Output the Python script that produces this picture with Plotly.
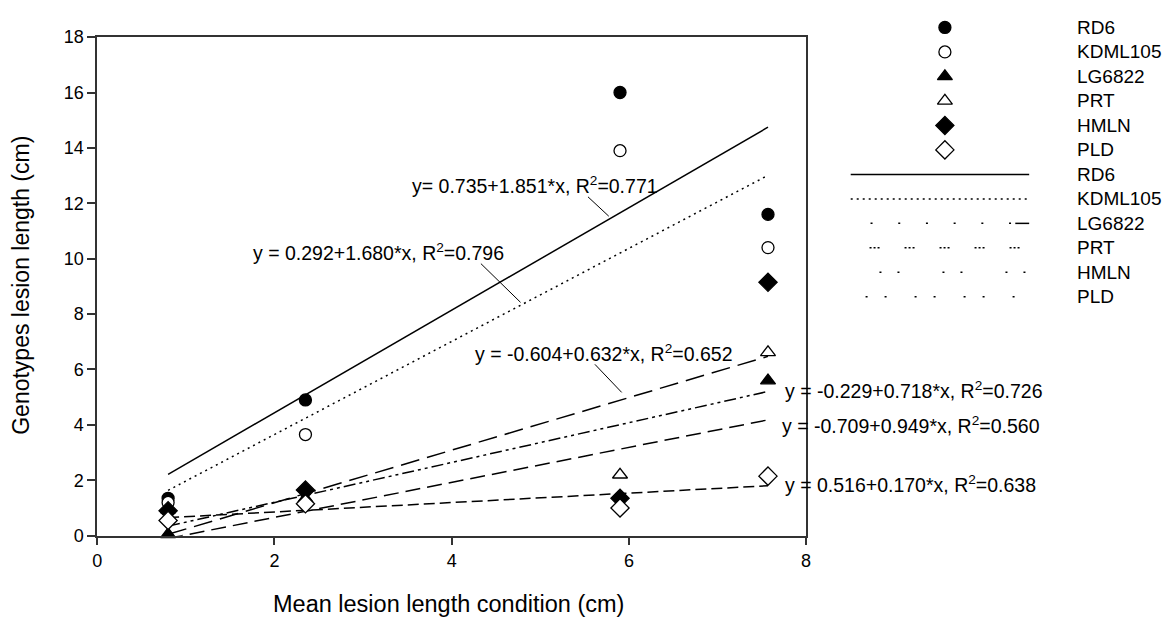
import plotly.graph_objects as go

# ---------------- data ----------------
genotypes = ["RD6", "KDML105", "LG6822", "PRT", "HMLN", "PLD"]
x_cond = [0.8, 2.35, 5.9, 7.57]
rd6 = [1.35, 4.9, 16.0, 11.6]
kdml105 = [1.2, 3.65, 13.9, 10.4]
lg6822 = [0.05, 1.34, 1.09, 5.6]
prt = [0.94, 1.26, 2.2, 6.62]
hmln = [0.9, 1.65, 1.35, 9.15]
pld = [0.55, 1.15, 1.0, 2.15]
series = [rd6, kdml105, lg6822, prt, hmln, pld]

intercepts = [0.735, 0.292, -0.604, -0.229, -0.709, 0.516]
slopes = [1.851, 1.680, 0.632, 0.718, 0.949, 0.170]
r2 = [0.771, 0.796, 0.652, 0.726, 0.560, 0.638]

x_ticks = [0, 2, 4, 6, 8]
y_ticks = [0, 2, 4, 6, 8, 10, 12, 14, 16, 18]

# ---------------- styles ----------------
W, H = 1170, 627
FONT = "Liberation Sans, Arial, sans-serif"
symbols = ["circle", "circle", "triangle-up", "triangle-up", "diamond", "diamond"]
fills = ["black", "white", "black", "white", "black", "white"]
msizes = [12, 12, 13, 13, 14, 14]
dashes = ["solid", "2px,4px", "15px,7px", "12px,4px,3px,4px,3px,4px", "19px,8px", "11px,5px"]
legend_dashes = ["solid", "2px,4px", "2px,25.7px", "2px,2px,2px,2px,2px,25px", "2px,16px,2px,43px", "2px,17px,2px,28px"]

fig = go.Figure()

# regression lines
for i, g in enumerate(genotypes):
    xs = [min(x_cond), max(x_cond)]
    ys = [intercepts[i] + slopes[i] * v for v in xs]
    fig.add_trace(go.Scatter(x=xs, y=ys, mode="lines", xaxis="x", yaxis="y",
                             line=dict(color="black", width=1.5, dash=dashes[i]),
                             showlegend=False, hoverinfo="skip", cliponaxis=False))

# data points
for i, g in enumerate(genotypes):
    fig.add_trace(go.Scatter(x=x_cond, y=series[i], mode="markers", name=g,
                             xaxis="x", yaxis="y", cliponaxis=False, showlegend=False,
                             marker=dict(symbol=symbols[i], size=msizes[i], color=fills[i],
                                         line=dict(color="black", width=1.3))))

# ------------- custom legend on pixel overlay axis -------------
row_y0, row_dy = 18, 25.3
mk_x, lab_x = 948, 1079
for i, g in enumerate(genotypes):
    yy = row_y0 + i * row_dy
    fig.add_trace(go.Scatter(x=[mk_x], y=[yy], mode="markers", xaxis="x2", yaxis="y2",
                             showlegend=False, hoverinfo="skip",
                             marker=dict(symbol=symbols[i], size=msizes[i], color=fills[i],
                                         line=dict(color="black", width=1.3))))
legend_starts = [853, 853, 873, 872, 882, 868]
for i, g in enumerate(genotypes):
    yy = row_y0 + (i + 6) * row_dy
    fig.add_trace(go.Scatter(x=[legend_starts[i], 1033], y=[yy, yy], mode="lines",
                             xaxis="x2", yaxis="y2", showlegend=False, hoverinfo="skip",
                             line=dict(color="black", width=1.5, dash=legend_dashes[i])))
    if g == "LG6822":
        fig.add_trace(go.Scatter(x=[1019, 1033], y=[yy, yy], mode="lines",
                                 xaxis="x2", yaxis="y2", showlegend=False, hoverinfo="skip",
                                 line=dict(color="black", width=1.5)))

annotations = []
for k in range(12):
    annotations.append(dict(x=lab_x, y=row_y0 + k * row_dy, xref="x2", yref="y2",
                            text=genotypes[k % 6], showarrow=False, xanchor="left",
                            yanchor="middle", font=dict(family=FONT, size=19, color="black")))

# equation labels (pixel positions)
eq_pos = {0: (408, 181), 1: (248, 250), 2: (472, 354), 3: (785, 392), 4: (782, 429), 5: (785, 490)}
for i, (px, py) in eq_pos.items():
    sp = "" if i == 0 else " "
    txt = f"y{sp}= {intercepts[i]:.3f}+{slopes[i]:.3f}*x, R<sup>2</sup>={r2[i]:.3f}"
    annotations.append(dict(x=px, y=py, xref="x2", yref="y2", text=txt, showarrow=False,
                            xanchor="left", yanchor="middle",
                            font=dict(family=FONT, size=19.5, color="black")))

# axis titles
annotations.append(dict(x=447, y=614, xref="x2", yref="y2", text="Mean lesion length condition (cm)",
                        showarrow=False, xanchor="center", yanchor="middle",
                        font=dict(family=FONT, size=23.5, color="black")))
annotations.append(dict(x=16, y=284, xref="x2", yref="y2", text="Genotypes lesion length (cm)",
                        showarrow=False, xanchor="center", yanchor="middle", textangle=-90,
                        font=dict(family=FONT, size=23, color="black")))

# leader lines
leaders = [((588, 193), (609, 213)), ((480, 262), (520, 302)), ((595, 366), (622, 395))]
shapes = [dict(type="line", xref="x2", yref="y2", x0=a[0], y0=a[1], x1=b[0], y1=b[1],
               line=dict(color="black", width=1)) for a, b in leaders]

x0d, x1d = 93 / W, 808 / W
y0d, y1d = (H - 543) / H, (H - 28) / H

axis_common = dict(showgrid=False, zeroline=False, showline=True, linecolor="#333333",
                   linewidth=1.5, mirror=True, ticks="outside", ticklen=8, tickwidth=1.5,
                   tickcolor="#333333", tickfont=dict(family=FONT, size=18, color="black"))

fig.update_layout(
    width=W, height=H,
    margin=dict(l=0, r=0, t=0, b=0),
    paper_bgcolor="white", plot_bgcolor="rgba(0,0,0,0)",
    showlegend=False,
    xaxis=dict(domain=[x0d, x1d], range=[0, 8], tickvals=x_ticks, anchor="y", **axis_common),
    yaxis=dict(domain=[y0d, y1d], range=[0, 18], tickvals=y_ticks, anchor="x", **axis_common),
    xaxis2=dict(domain=[0, 1], range=[0, W], visible=False, anchor="y2", fixedrange=True),
    yaxis2=dict(domain=[0, 1], range=[H, 0], visible=False, anchor="x2", fixedrange=True),
    annotations=annotations,
    shapes=shapes,
)

fig.write_html("out.html", config={"displayModeBar": False},
               post_script="document.body.style.margin='0px';")
